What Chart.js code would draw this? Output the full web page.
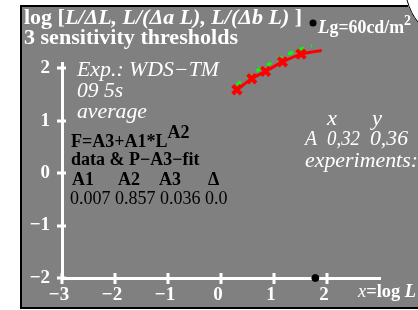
<!DOCTYPE html>
<html>
<head>
<meta charset="utf-8">
<script src="https://cdn.jsdelivr.net/npm/chart.js@4"></script>
<style>
  html, body { margin: 0; padding: 0; background: #fff; }
  canvas { display: block; }
</style>
</head>
<body>
<canvas id="chart" width="418" height="310"></canvas>
<script>
// tick values
var xTicks = [-3, -2, -1, 0, 1, 2];
var yTicks = [-2, -1, 0, 1, 2];

// measured thresholds (red) and fit (green), x = log L
var dataX = [0.30, 0.58, 0.84, 1.16, 1.51, 1.90];
var dataY = [1.59, 1.80, 1.94, 2.12, 2.27, 2.34];
var fitX = [0.30, 0.58, 0.84, 1.16, 1.51, 1.72];
var fitY = [1.69, 1.90, 2.04, 2.22, 2.37, 2.43];

// adapting luminance mark on the x axis (log 60)
var adaptX = [1.78];
var adaptY = [-2];

var coeffNames = ['A1', 'A2', 'A3', '\u0394'];
var coeffValues = ['0.007', '0.857', '0.036', '0.0'];

var serif = '"Liberation Serif", "DejaVu Serif", serif';

function toPoints(xs, ys) {
    let pts = [];
    for (let i = 0; i < xs.length; i++) {
        pts.push({x: xs[i], y: ys[i]});
    }
    return pts;
}

function minus(v) {
    return String(v).replace('-', '\u2212');
}

// draw a row of text runs, each with its own font; optional width stretches it
function runs(ctx, x, y, parts, width) {
    let total = 0;
    for (let i = 0; i < parts.length; i++) {
        ctx.font = parts[i][1] + ' ' + serif;
        total += ctx.measureText(parts[i][0]).width;
    }
    let sx = width ? width / total : 1;
    ctx.save();
    ctx.translate(x, y);
    ctx.scale(sx, 1);
    let cx = 0;
    for (let i = 0; i < parts.length; i++) {
        ctx.font = parts[i][1] + ' ' + serif;
        ctx.fillText(parts[i][0], cx, 0);
        cx += ctx.measureText(parts[i][0]).width;
    }
    ctx.restore();
    return x + cx * sx;
}

var frame = {
    id: 'frame',
    beforeDraw: function (chart) {
        let ctx = chart.ctx;
        ctx.save();
        ctx.fillStyle = '#fff';
        ctx.fillRect(0, 0, chart.width, chart.height);
        ctx.fillStyle = '#808080';
        ctx.fillRect(21, 6, chart.width - 21, 302);
        ctx.strokeStyle = '#000';
        ctx.lineWidth = 2;
        ctx.beginPath();
        ctx.moveTo(408, 6);
        ctx.lineTo(21, 6);
        ctx.lineTo(21, 308);
        ctx.lineTo(418, 308);
        ctx.stroke();
        // white corner with arc, top right
        ctx.fillStyle = '#fff';
        ctx.beginPath();
        ctx.moveTo(408, 5);
        ctx.quadraticCurveTo(411, 14, 418, 22);
        ctx.lineTo(418, 0);
        ctx.lineTo(408, 0);
        ctx.closePath();
        ctx.fill();
        ctx.lineWidth = 1;
        ctx.beginPath();
        ctx.moveTo(407, 0);
        ctx.quadraticCurveTo(411, 14, 418, 22);
        ctx.stroke();
        ctx.restore();
    },
    afterDraw: function (chart) {
        let ctx = chart.ctx;
        let xs = chart.scales.x;
        let ys = chart.scales.y;
        ctx.save();

        // tick marks crossing the axes
        ctx.strokeStyle = '#fff';
        ctx.lineWidth = 3;
        ctx.beginPath();
        for (let i = 0; i < xTicks.length; i++) {
            let px = Math.round(xs.getPixelForValue(xTicks[i]));
            ctx.moveTo(px, ys.bottom - 5);
            ctx.lineTo(px, ys.bottom + 6);
        }
        for (let i = 0; i < yTicks.length; i++) {
            let py = Math.round(ys.getPixelForValue(yTicks[i]));
            ctx.moveTo(xs.left - 5, py);
            ctx.lineTo(xs.left + 4, py);
        }
        ctx.stroke();

        ctx.textBaseline = 'alphabetic';
        ctx.textAlign = 'left';

        // title
        ctx.fillStyle = '#fff';
        runs(ctx, 24, 24, [['log [', 'bold 21px'], ['L/\u0394L, L/(\u0394a L), L/(\u0394b L)', 'bold italic 21px'], [' ]', 'bold 21px']], 278);
        runs(ctx, 24, 44, [['3 sensitivity thresholds', 'bold 21px']], 214);

        // adapting luminance label
        ctx.fillStyle = '#000';
        ctx.beginPath();
        ctx.arc(313, 23, 3.5, 0, Math.PI * 2);
        ctx.fill();
        ctx.fillStyle = '#fff';
        let lx = runs(ctx, 318, 33, [['L', 'bold italic 19px'], ['g=60cd/m', 'bold 18px']], 86);
        runs(ctx, lx, 25, [['2', 'bold 14px']]);

        // experiment description
        runs(ctx, 77, 76, [['Exp.: WDS\u2212TM', 'italic 20px']], 142);
        runs(ctx, 77, 97, [['09 5s', 'italic 20px']], 46);
        runs(ctx, 77, 118, [['average', 'italic 20px']], 70);

        // fit formula and coefficients
        ctx.fillStyle = '#000';
        let fx = runs(ctx, 71, 147, [['F=A3+A1*L', 'bold 18px']]);
        runs(ctx, fx, 138, [['A2', 'bold 18px']]);
        runs(ctx, 71, 165, [['data & P\u2212A3\u2212fit', 'bold 18px']]);
        let colX = [72, 118, 159, 208];
        for (let i = 0; i < coeffNames.length; i++) {
            runs(ctx, colX[i], 185, [[coeffNames[i], 'bold 18px']]);
        }
        runs(ctx, 70, 204, [[coeffValues.join(' '), '18px']]);

        // chromaticity of adapting field
        ctx.fillStyle = '#fff';
        runs(ctx, 327, 125, [['x', 'italic 20px']], 10);
        runs(ctx, 372, 125, [['y', 'italic 20px']], 10);
        runs(ctx, 305, 145, [['A', 'italic 20px']], 12);
        runs(ctx, 327, 145, [['0,32', 'italic 20px']], 33);
        runs(ctx, 370, 145, [['0,36', 'italic 20px']], 38);
        runs(ctx, 305, 167, [['experiments:', 'italic 20px']], 113);

        // x axis title
        runs(ctx, 358, 297, [['x', 'italic 18px'], ['=log ', 'bold 18px'], ['L', 'bold italic 18px']], 58);

        ctx.restore();
    }
};

var chart = new Chart(document.getElementById('chart'), {
    type: 'scatter',
    data: {
        datasets: [{
            label: 'data',
            data: toPoints(dataX, dataY),
            showLine: true,
            borderColor: '#ff0000',
            backgroundColor: '#ff0000',
            borderWidth: 3,
            tension: 0.3,
            pointStyle: 'crossRot',
            pointRadius: 6,
            pointBorderWidth: 4,
            clip: false,
            order: 0
        }, {
            label: 'fit',
            data: toPoints(fitX, fitY),
            showLine: true,
            borderColor: '#00ff00',
            borderWidth: 3,
            borderDash: [5, 7],
            tension: 0.3,
            pointRadius: 0,
            clip: false,
            order: 1
        }, {
            label: 'adapt',
            data: toPoints(adaptX, adaptY),
            backgroundColor: '#000',
            borderColor: '#000',
            pointRadius: 3.5,
            clip: false,
            order: -1
        }]
    },
    options: {
        responsive: false,
        animation: false,
        devicePixelRatio: 1,
        layout: {padding: {left: 0, top: 63, right: 38, bottom: 0}},
        plugins: {
            legend: {display: false},
            tooltip: {enabled: false}
        },
        scales: {
            x: {
                type: 'linear',
                min: -3,
                max: 3,
                afterBuildTicks: function (scale) {
                    scale.ticks = xTicks.map(function (v) { return {value: v}; });
                },
                afterFit: function (scale) { scale.height = 32; },
                grid: {display: false, drawTicks: false},
                border: {display: true, color: '#fff', width: 3},
                ticks: {
                    color: '#fff',
                    padding: 6,
                    labelOffset: -3,
                    maxRotation: 0,
                    font: {family: serif, size: 19, weight: 'bold'},
                    callback: function (v) { return minus(v); }
                }
            },
            y: {
                type: 'linear',
                min: -2,
                max: 2.1,
                afterBuildTicks: function (scale) {
                    scale.ticks = yTicks.map(function (v) { return {value: v}; });
                },
                afterFit: function (scale) { scale.width = 62; },
                grid: {display: false, drawTicks: false},
                border: {display: true, color: '#fff', width: 3},
                ticks: {
                    color: '#fff',
                    padding: 12,
                    font: {family: serif, size: 19, weight: 'bold'},
                    callback: function (v) { return minus(v); }
                }
            }
        }
    },
    plugins: [frame]
});
</script>
</body>
</html>
